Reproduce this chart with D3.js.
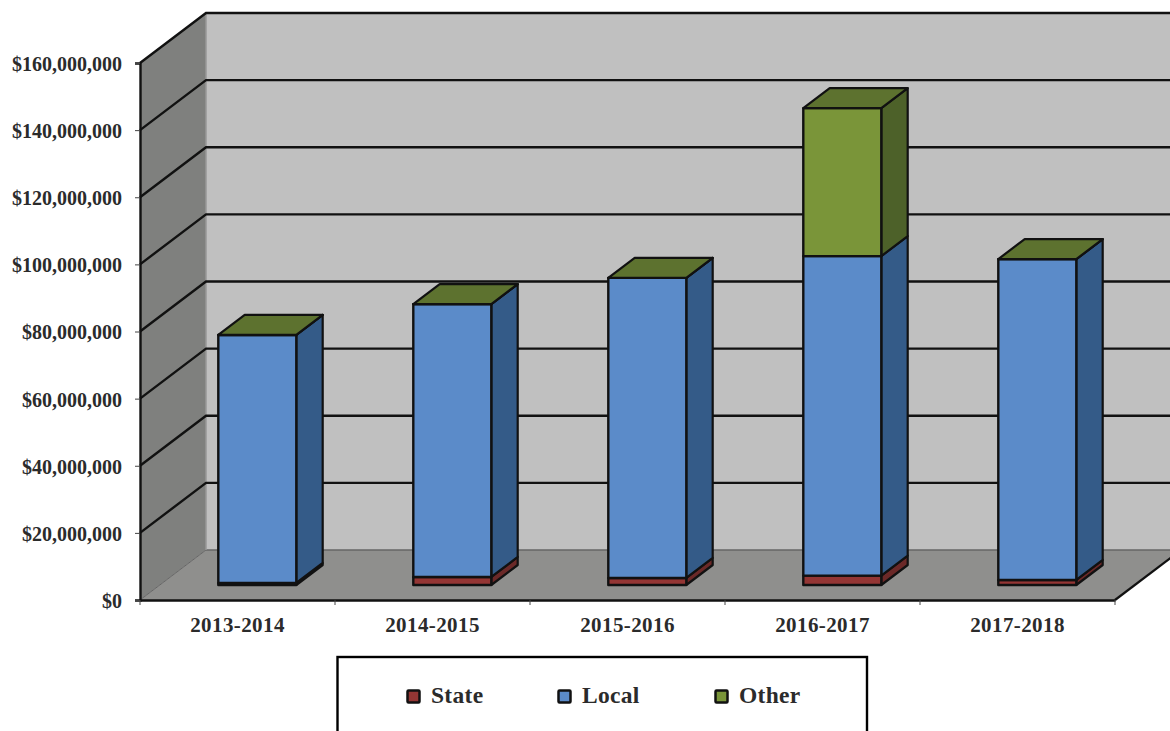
<!DOCTYPE html>
<html>
<head>
<meta charset="utf-8">
<title>Revenue by source</title>
<script src="https://cdn.jsdelivr.net/npm/d3@7"></script>
<style>
  html, body { margin: 0; padding: 0; background: #fff; overflow: hidden; }
  text { font-family: "Liberation Serif", serif; font-weight: bold; fill: #2b2b2b; }
</style>
</head>
<body>
<div id="chart"></div>
<script>
var categories = ["2013-2014", "2014-2015", "2015-2016", "2016-2017", "2017-2018"];
var series_names = ["State", "Local", "Other"];
var state_values = [600000, 2400000, 2100000, 2800000, 1500000];
var local_values = [73900000, 81300000, 89400000, 95200000, 95600000];
var other_values = [0, 0, 0, 44100000, 0];
var y_ticks = [0, 20000000, 40000000, 60000000, 80000000, 100000000, 120000000, 140000000, 160000000];

var WIDTH = 1170;
var HEIGHT = 731;

// Offset of the back wall from the front plane of the box.
var DEPTH_X = 66;
var DEPTH_Y = 50;
var BAR_GAP = 0.3;

var FACE_COLORS = {
  State: { front: "#943634", side: "#6b2928", top: "#7a2d2b" },
  Local: { front: "#5b8bc9", side: "#345b88", top: "#44699a" },
  Other: { front: "#7a9539", side: "#4d6129", top: "#5d722f" }
};

function pts_to_str(pts) {
  return pts.map(function (p) { return p.join(","); }).join(" ");
}

function add_poly(parent, pts, fill, stroke, stroke_width) {
  return parent.append("polygon")
    .attr("points", pts_to_str(pts))
    .attr("fill", fill)
    .attr("stroke", stroke)
    .attr("stroke-width", stroke_width)
    .attr("stroke-linejoin", "round");
}

var svg = d3.select("#chart").append("svg")
  .attr("width", WIDTH)
  .attr("height", HEIGHT)
  .style("display", "block");

var x = d3.scaleBand().domain(categories).range([140, 1115]);
var y = d3.scaleLinear().domain([0, 160000000]).range([600, 63]);

var x0 = x.range()[0], x1 = x.range()[1];
var y0 = y(0), y_top = y(160000000);

// Side wall, back wall and floor of the box.
var box = svg.append("g");

add_poly(box, [[x0, y0], [x0 + DEPTH_X, y0 - DEPTH_Y], [x0 + DEPTH_X, y_top - DEPTH_Y], [x0, y_top]], "#7f807e", "none", 0);
box.append("rect")
  .attr("x", x0 + DEPTH_X)
  .attr("y", y_top - DEPTH_Y)
  .attr("width", x1 - x0)
  .attr("height", y0 - y_top)
  .attr("fill", "#c0c0c0");
add_poly(box, [[x0, y0], [x1, y0], [x1 + DEPTH_X, y0 - DEPTH_Y], [x0 + DEPTH_X, y0 - DEPTH_Y]], "#8f8f8d", "none", 0);

box.append("line")
  .attr("x1", x0 + DEPTH_X).attr("x2", x1 + DEPTH_X)
  .attr("y1", y0 - DEPTH_Y).attr("y2", y0 - DEPTH_Y)
  .attr("stroke", "#666").attr("stroke-width", 1.5);
box.append("line")
  .attr("x1", x0).attr("x2", x0 + DEPTH_X)
  .attr("y1", y0).attr("y2", y0 - DEPTH_Y)
  .attr("stroke", "#666").attr("stroke-width", 1);
box.append("line")
  .attr("x1", x0 + DEPTH_X).attr("x2", x0 + DEPTH_X)
  .attr("y1", y_top - DEPTH_Y).attr("y2", y0 - DEPTH_Y)
  .attr("stroke", "#999").attr("stroke-width", 1.5);

// Grid lines run along the side wall and then across the back wall.
y_ticks.slice(1).forEach(function (val) {
  box.append("polyline")
    .attr("points", pts_to_str([
      [x0, y(val)],
      [x0 + DEPTH_X, y(val) - DEPTH_Y],
      [x1 + DEPTH_X, y(val) - DEPTH_Y]
    ]))
    .attr("fill", "none")
    .attr("stroke", "#111")
    .attr("stroke-width", 2.4);
});

box.append("line")
  .attr("x1", x1).attr("x2", x1 + DEPTH_X)
  .attr("y1", y0).attr("y2", y0 - DEPTH_Y)
  .attr("stroke", "#111").attr("stroke-width", 2.2);

// Axes
var y_axis = svg.append("g")
  .attr("transform", "translate(" + x0 + ",0)")
  .call(d3.axisLeft(y).tickValues(y_ticks).tickFormat(d3.format("$,")).tickSize(5).tickPadding(13));

var x_axis = svg.append("g")
  .attr("transform", "translate(0," + y0 + ")")
  .call(d3.axisBottom(x).tickSize(0).tickPadding(17));

x_axis.append("g")
  .selectAll("line")
  .data(d3.range(categories.length + 1))
  .join("line")
  .attr("x1", function (i) { return x0 + i * x.bandwidth(); })
  .attr("x2", function (i) { return x0 + i * x.bandwidth(); })
  .attr("y1", 0)
  .attr("y2", 5)
  .attr("stroke", "#444");

[y_axis, x_axis].forEach(function (axis) {
  axis.select(".domain").attr("stroke", "#111").attr("stroke-width", 2.4);
  axis.selectAll(".tick line").attr("stroke", "#444").attr("stroke-width", 1);
});

y_axis.selectAll("text")
  .attr("font-size", 20)
  .attr("y", 1)
  .style("font-family", '"Liberation Serif", serif');

x_axis.selectAll("text")
  .attr("font-size", 21)
  .attr("letter-spacing", 0.4)
  .style("font-family", '"Liberation Serif", serif');

// Stacked bars
var table = categories.map(function (cat, i) {
  return { category: cat, State: state_values[i], Local: local_values[i], Other: other_values[i] };
});
var stacked = d3.stack().keys(series_names)(table);

var bar_w = x.bandwidth() * (1 - 2 * BAR_GAP);
var bar_dx = DEPTH_X * BAR_GAP;
var bar_dy = DEPTH_Y * BAR_GAP;
var side_dx = DEPTH_X * (1 - 2 * BAR_GAP);
var side_dy = DEPTH_Y * (1 - 2 * BAR_GAP);

var bars = svg.append("g");

categories.forEach(function (cat, i) {
  var left = x(cat) + x.bandwidth() * BAR_GAP + bar_dx;
  var right = left + bar_w;

  stacked.forEach(function (layer) {
    var colors = FACE_COLORS[layer.key];
    var bottom = y(layer[i][0]) - bar_dy;
    var top = y(layer[i][1]) - bar_dy;

    add_poly(bars, [[right, bottom], [right + side_dx, bottom - side_dy], [right + side_dx, top - side_dy], [right, top]],
      colors.side, "#111", 2.2);
    add_poly(bars, [[left, bottom], [right, bottom], [right, top], [left, top]],
      colors.front, "#111", 2.4);
  });

  // Only the uppermost series shows its top face.
  var last = stacked[stacked.length - 1];
  var cap = y(last[i][1]) - bar_dy;
  add_poly(bars, [[left, cap], [right, cap], [right + side_dx, cap - side_dy], [left + side_dx, cap - side_dy]],
    FACE_COLORS[last.key].top, "#111", 2.2);
});

// Legend
var legend_x = { State: 407.5, Local: 558.5, Other: 715.5 };
var legend = svg.append("g");

legend.append("rect")
  .attr("x", 337.5)
  .attr("y", 657)
  .attr("width", 529.5)
  .attr("height", 90)
  .attr("fill", "#fff")
  .attr("stroke", "#000")
  .attr("stroke-width", 2.4);

series_names.forEach(function (name) {
  legend.append("rect")
    .attr("x", legend_x[name])
    .attr("y", 690.5)
    .attr("width", 12)
    .attr("height", 12)
    .attr("rx", 1)
    .attr("fill", FACE_COLORS[name].front)
    .attr("stroke", "#111")
    .attr("stroke-width", 2.5);

  legend.append("text")
    .attr("x", legend_x[name] + 23.5)
    .attr("y", 703)
    .attr("font-size", 23.5)
    .attr("letter-spacing", 0.3)
    .text(name);
});
</script>
</body>
</html>
